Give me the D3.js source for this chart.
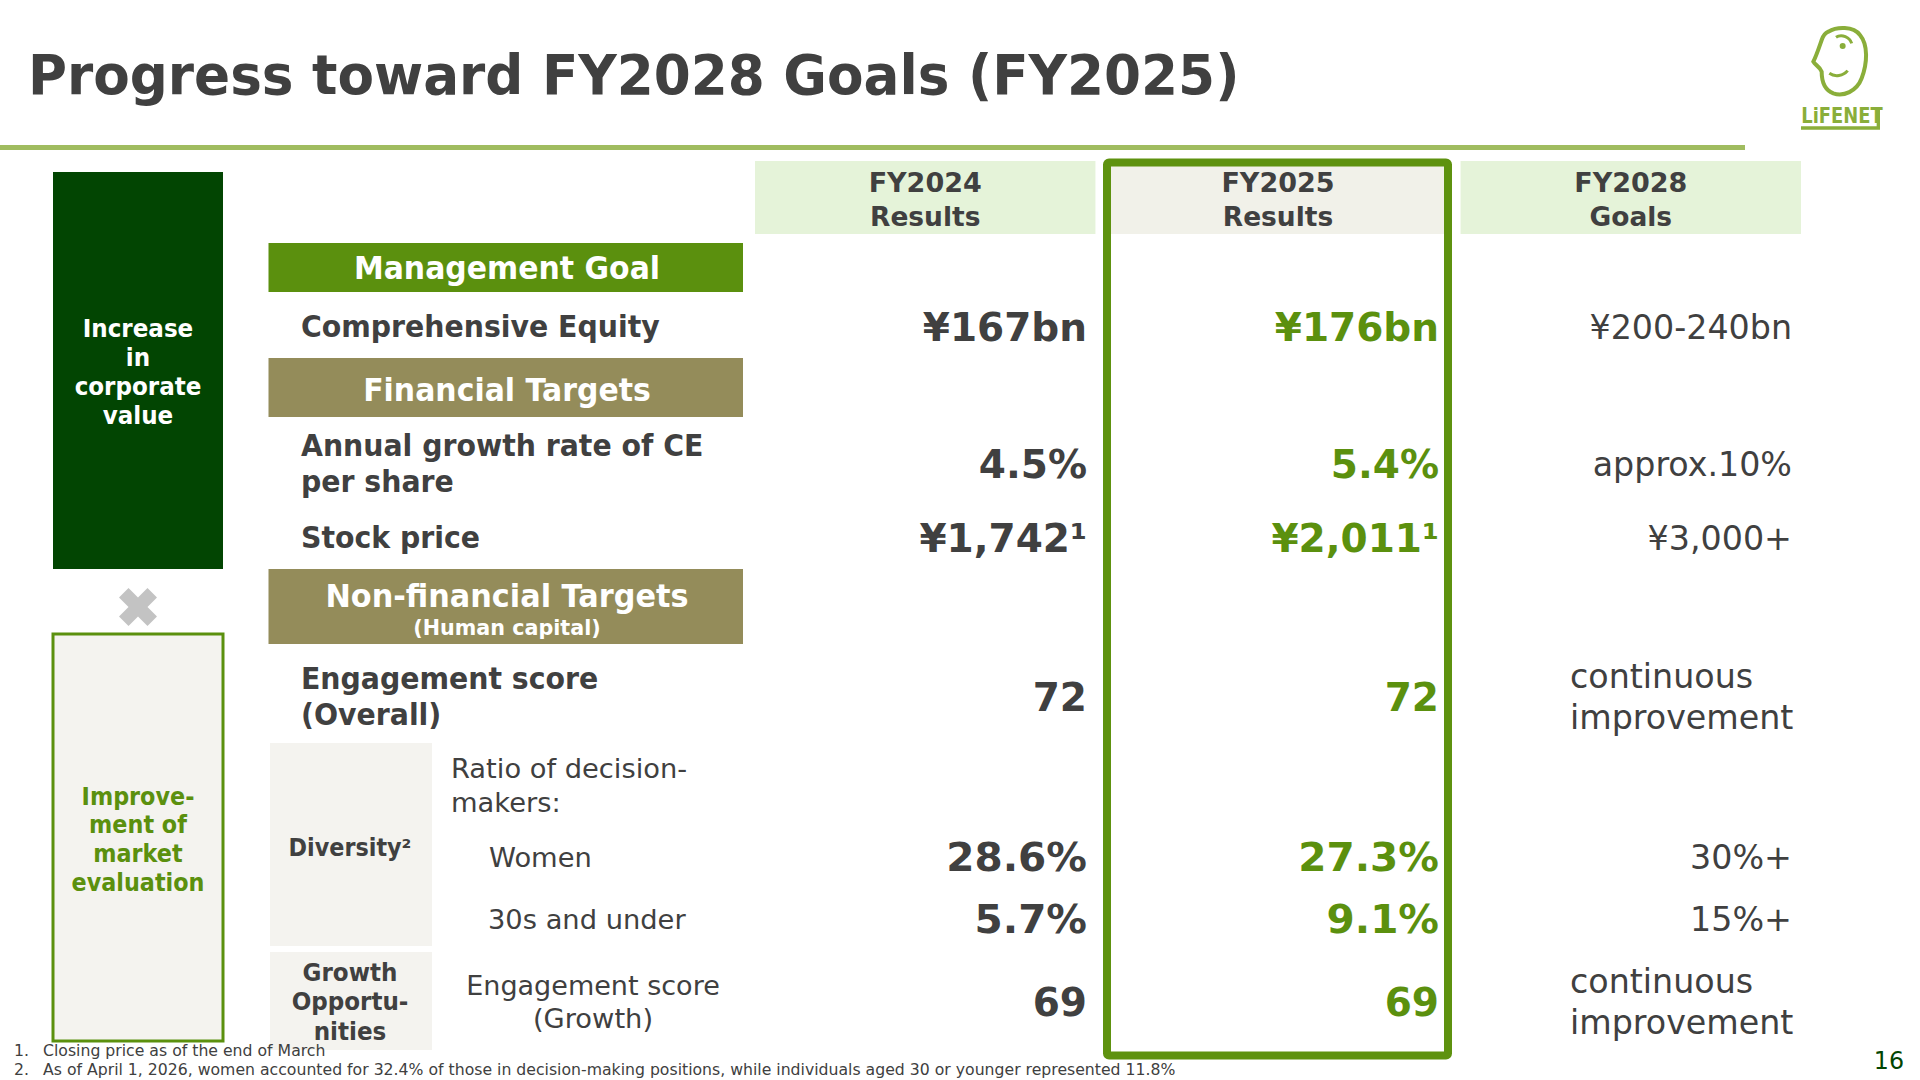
<!DOCTYPE html>
<html>
<head>
<meta charset="utf-8">
<script src="https://cdn.jsdelivr.net/npm/d3@7"></script>
<style>
  html, body { margin: 0; padding: 0; background: #fff; }
  svg { display: block; }
  text { font-family: "DejaVu Sans", Verdana, sans-serif; }
</style>
</head>
<body>
<div id="chart"></div>
<script>
// table content
const columns = ["FY2024", "FY2025", "FY2028"];
const columnLabels = ["Results", "Results", "Goals"];
const rows = ["equity", "growth", "stock", "engagement", "women", "under30", "growthScore"];
const fy2024 = ["¥167bn", "4.5%", "¥1,742¹", "72", "28.6%", "5.7%", "69"];
const fy2025 = ["¥176bn", "5.4%", "¥2,011¹", "72", "27.3%", "9.1%", "69"];
const goals = ["¥200-240bn", "approx.10%", "¥3,000+", null, "30%+", "15%+", null];
const goalWrapped = ["continuous", "improvement"];

const sections = ["Management Goal", "Financial Targets", "Non-financial Targets"];
const boldLabels = [
  ["Comprehensive Equity"],
  ["Annual growth rate of CE", "per share"],
  ["Stock price"],
  ["Engagement score", "(Overall)"]
];
const footnotes = [
  "Closing price as of the end of March",
  "As of April 1, 2026, women accounted for 32.4% of those in decision-making positions, while individuals aged 30 or younger represented 11.8%"
];

const dark = "#404040", green = "#5b900e", olive = "#948c5a", deep = "#024502", logoGreen = "#8aae3a";

const svg = d3.select("#chart").append("svg")
  .attr("width", 1920)
  .attr("height", 1080);

// row centres and column bands
const rowY = d3.scaleOrdinal().domain(rows).range([327, 464, 538, 697, 857, 919, 1002]);
const colX = d3.scaleBand().domain(columns).range([752, 1804]).paddingInner(0.035).paddingOuter(0.0085);
const valueRight = d3.scaleOrdinal().domain(columns).range([1087, 1439, 1792]);

// the reference face is a bit narrower than DejaVu Bold, so squeeze it to fit
function squeeze(sel, factor) {
  sel.each(function () {
    d3.select(this)
      .attr("textLength", this.getComputedTextLength() * factor)
      .attr("lengthAdjust", "spacingAndGlyphs");
  });
  return sel;
}

function label(parent, str, x, y, size, opts) {
  opts = opts || {};
  const t = parent.append("text")
    .attr("x", x)
    .attr("y", y)
    .attr("dy", "0.36em")
    .attr("font-size", size)
    .attr("font-weight", opts.weight || "normal")
    .attr("text-anchor", opts.anchor || "start")
    .attr("fill", opts.fill || dark)
    .text(str);
  if (opts.squeeze) squeeze(t, opts.squeeze);
  return t;
}

// title and rule
label(svg, "Progress toward FY2028 Goals (FY2025)", 28, 74, 56, { weight: "bold", squeeze: 0.95 });
svg.append("rect").attr("x", 0).attr("y", 145).attr("width", 1745).attr("height", 5).attr("fill", "#a0bc60");

// logo
const logo = svg.append("g").attr("transform", "translate(1760,0) scale(0.3333)");
logo.append("path")
  .attr("d", "M205 95C230 80 280 78 300 105C325 135 322 190 305 235C290 275 250 290 220 280C195 270 185 245 185 215C180 200 165 195 160 185C170 165 178 140 185 120C190 105 198 98 205 95Z")
  .attr("fill", "none").attr("stroke", logoGreen).attr("stroke-width", 12);
logo.append("path")
  .attr("d", "M228 112C245 100 270 112 275 130M208 220C225 232 250 228 263 212")
  .attr("fill", "none").attr("stroke", logoGreen).attr("stroke-width", 9);
logo.append("circle").attr("cx", 248).attr("cy", 138).attr("r", 9).attr("fill", logoGreen);
logo.append("path")
  .attr("d", "M123 384H355V325")
  .attr("fill", "none").attr("stroke", logoGreen).attr("stroke-width", 10);
logo.append("text")
  .attr("x", 124).attr("y", 368)
  .attr("font-size", 62).attr("font-weight", "bold").attr("fill", logoGreen)
  .attr("textLength", 244).attr("lengthAdjust", "spacingAndGlyphs")
  .text("LiFENET");

// left side boxes
svg.append("rect").attr("x", 53).attr("y", 172).attr("width", 170).attr("height", 397).attr("fill", deep);
["Increase", "in", "corporate", "value"].forEach((s, i) => {
  label(svg, s, 138, 328 + i * 29, 24, { weight: "bold", anchor: "middle", fill: "#fff", squeeze: 0.96 });
});
svg.append("path")
  .attr("transform", "translate(138,607) rotate(45)")
  .attr("d", d3.symbol(d3.symbolCross, 900))
  .attr("fill", "#c3c3c3");
svg.append("rect").attr("x", 53).attr("y", 634).attr("width", 170).attr("height", 407)
  .attr("fill", "#f4f3ef").attr("stroke", green).attr("stroke-width", 3);
["Improve-", "ment of", "market", "evaluation"].forEach((s, i) => {
  label(svg, s, 138, 796 + i * 28.8, 24, { weight: "bold", anchor: "middle", fill: green, squeeze: 0.93 });
});

// column headers
svg.selectAll("rect.head")
  .data(columns)
  .join("rect")
  .attr("class", "head")
  .attr("x", d => colX(d))
  .attr("y", 161)
  .attr("width", colX.bandwidth())
  .attr("height", 73)
  .attr("fill", d => d === "FY2025" ? "#f1f1e9" : "#e5f3d9");
columns.forEach((c, i) => {
  const cx = colX(c) + colX.bandwidth() / 2;
  label(svg, c, cx, 182, 27, { weight: "bold", anchor: "middle" });
  label(svg, columnLabels[i], cx, 216, 27, { weight: "bold", anchor: "middle", squeeze: 0.98 });
});

// section bars
const sectionTop = d3.scaleOrdinal().domain(sections).range([243, 358, 569]);
const sectionHeight = d3.scaleOrdinal().domain(sections).range([49, 59, 75]);
const sectionFill = d3.scaleOrdinal().domain(sections).range([green, olive, olive]);
svg.selectAll("rect.section")
  .data(sections)
  .join("rect")
  .attr("class", "section")
  .attr("x", 268.5)
  .attr("y", d => sectionTop(d))
  .attr("width", 474.5)
  .attr("height", d => sectionHeight(d))
  .attr("fill", d => sectionFill(d));
label(svg, sections[0], 507, 267, 32, { weight: "bold", anchor: "middle", fill: "#fff", squeeze: 0.935 });
label(svg, sections[1], 507, 389, 32, { weight: "bold", anchor: "middle", fill: "#fff", squeeze: 0.935 });
label(svg, sections[2], 507, 595, 32, { weight: "bold", anchor: "middle", fill: "#fff", squeeze: 0.947 });
label(svg, "(Human capital)", 507, 627, 21, { weight: "bold", anchor: "middle", fill: "#fff", squeeze: 0.985 });

// bold row labels
const boldTops = [326, 445, 537, 678];
boldLabels.forEach((lines, i) => {
  lines.forEach((s, j) => {
    label(svg, s, 301, boldTops[i] + j * 36, 30, { weight: "bold", squeeze: 0.945 });
  });
});

// diversity / growth sub blocks
svg.append("rect").attr("x", 270).attr("y", 743).attr("width", 162).attr("height", 203).attr("fill", "#f4f3ef");
svg.append("rect").attr("x", 270).attr("y", 952).attr("width", 162).attr("height", 98).attr("fill", "#f4f3ef");
label(svg, "Diversity²", 350, 847, 24, { weight: "bold", anchor: "middle", squeeze: 0.93 });
["Growth", "Opportu-", "nities"].forEach((s, i) => {
  label(svg, s, 350, 972 + i * 29.5, 24, { weight: "bold", anchor: "middle", squeeze: 0.96 });
});
label(svg, "Ratio of decision-", 451, 768, 27.3);
label(svg, "makers:", 451, 802, 27.3);
label(svg, "Women", 489, 857, 27.3);
label(svg, "30s and under", 488, 919, 27.3);
label(svg, "Engagement score", 593, 985, 27.3, { anchor: "middle", squeeze: 0.99 });
label(svg, "(Growth)", 593, 1018, 27.3, { anchor: "middle" });

// values
const wideRows = ["women", "under30"];
const valueSeries = [fy2024, fy2025];
valueSeries.forEach((series, k) => {
  const col = columns[k];
  svg.selectAll("text.v" + k)
    .data(series)
    .join("text")
    .attr("class", "v" + k)
    .attr("x", valueRight(col))
    .attr("y", (d, i) => rowY(rows[i]))
    .attr("dy", "0.36em")
    .attr("text-anchor", "end")
    .attr("font-size", 39)
    .attr("font-weight", "bold")
    .attr("fill", k === 1 ? green : dark)
    .text(d => d)
    .each(function (d, i) {
      if (wideRows.includes(rows[i])) squeeze(d3.select(this), 1.04);
    });
});
svg.selectAll("text.goal")
  .data(goals)
  .join("text")
  .attr("class", "goal")
  .attr("x", valueRight("FY2028"))
  .attr("y", (d, i) => rowY(rows[i]))
  .attr("dy", "0.36em")
  .attr("text-anchor", "end")
  .attr("font-size", 33.3)
  .attr("fill", dark)
  .text(d => d);
[["engagement", 676], ["growthScore", 981]].forEach(([r, top]) => {
  goalWrapped.forEach((s, j) => label(svg, s, 1570, top + j * 41, 33.3));
});

// highlight frame on FY2025
svg.append("rect")
  .attr("x", 1107).attr("y", 162.5).attr("width", 341).attr("height", 893)
  .attr("rx", 2)
  .attr("fill", "none")
  .attr("stroke", "#5e920f")
  .attr("stroke-width", 8);

// footnotes and page number
footnotes.forEach((s, i) => {
  label(svg, (i + 1) + ".", 14, 1050 + i * 19, 15.7);
  label(svg, s, 43, 1050 + i * 19, 15.7);
});
label(svg, "16", 1904, 1060, 25, { anchor: "end", fill: deep, squeeze: 0.95 });
</script>
</body>
</html>
